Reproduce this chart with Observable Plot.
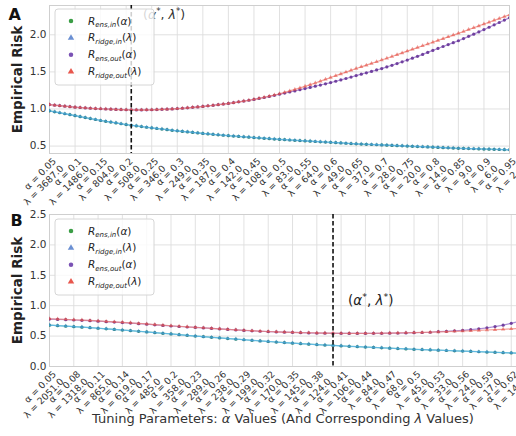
<!DOCTYPE html>
<html><head><meta charset="utf-8">
<script src="https://cdn.jsdelivr.net/npm/d3@7"></script>
<script src="https://cdn.jsdelivr.net/npm/@observablehq/plot@0.6"></script>
<style>
body{margin:0;background:#fff;}
#chart{width:516px;height:436px;position:relative;overflow:hidden;font-family:"DejaVu Sans",sans-serif;}
#chart svg{display:block;overflow:visible;}
</style></head><body><div id="chart"></div>
<script>
// ---------- Panel A data (alpha = 0.05 .. 0.95, step 0.01) ----------
const alphaA = d3.range(91).map(i => +(0.05 + i * 0.01).toFixed(2));
const alphaTicksA = [0.05,0.1,0.15,0.2,0.25,0.3,0.35,0.4,0.45,0.5,0.55,0.6,0.65,0.7,0.75,0.8,0.85,0.9,0.95];
const lambdaTicksA = ["3687.0","1486.0","804.0","508.0","346.0","249.0","187.0","142.0","108.0","83.0","64.0","49.0","37.0","28.0","20.0","14.0","9.0","6.0","2.0"];
const ensInA = [0.975,0.962,0.949,0.936,0.923,0.910,0.897,0.884,0.871,0.858,0.845,0.834,0.823,0.812,0.801,0.790,0.781,0.772,0.763,0.754,
0.745,0.737,0.729,0.721,0.713,0.705,0.698,0.691,0.684,0.677,0.670,0.664,0.658,0.652,0.646,0.640,0.635,0.630,0.625,0.620,
0.615,0.610,0.605,0.600,0.595,0.590,0.586,0.582,0.578,0.574,0.570,0.566,0.562,0.558,0.554,0.550,0.546,0.542,0.538,0.534,
0.530,0.527,0.524,0.521,0.518,0.515,0.512,0.509,0.506,0.503,0.500,0.497,0.494,0.491,0.488,0.485,0.482,0.479,0.476,0.473,
0.470,0.468,0.466,0.464,0.462,0.460,0.458,0.456,0.454,0.452,0.450];
const ridgeInA = [0.976,0.963,0.950,0.937,0.924,0.911,0.898,0.885,0.872,0.859,0.846,0.835,0.824,0.813,0.802,0.791,0.782,0.773,0.764,0.755,
0.746,0.738,0.730,0.722,0.714,0.706,0.699,0.692,0.685,0.678,0.671,0.665,0.659,0.653,0.647,0.641,0.636,0.631,0.626,0.621,
0.616,0.611,0.606,0.601,0.596,0.591,0.587,0.583,0.579,0.575,0.571,0.567,0.563,0.559,0.555,0.551,0.547,0.543,0.539,0.535,
0.531,0.528,0.525,0.522,0.519,0.516,0.513,0.510,0.507,0.504,0.501,0.498,0.495,0.492,0.489,0.486,0.483,0.480,0.477,0.474,
0.471,0.469,0.467,0.465,0.463,0.461,0.459,0.457,0.455,0.453,0.451];
const ensOutA = [1.060,1.052,1.045,1.038,1.031,1.025,1.020,1.015,1.010,1.006,1.003,1.000,0.997,0.994,0.992,0.990,0.989,0.988,0.988,0.989,
0.990,0.992,0.995,0.998,1.001,1.005,1.010,1.016,1.022,1.028,1.035,1.042,1.050,1.058,1.066,1.075,1.085,1.096,1.107,1.118,
1.129,1.142,1.155,1.169,1.184,1.200,1.214,1.229,1.244,1.259,1.275,1.291,1.307,1.323,1.339,1.356,1.374,1.392,1.411,1.430,
1.450,1.469,1.488,1.507,1.526,1.545,1.567,1.589,1.612,1.636,1.660,1.685,1.710,1.736,1.763,1.790,1.816,1.842,1.868,1.894,
1.920,1.949,1.979,2.009,2.039,2.070,2.102,2.134,2.166,2.198,2.230];
const ridgeOutA = [1.060,1.052,1.045,1.038,1.031,1.025,1.020,1.015,1.010,1.006,1.003,1.000,0.997,0.994,0.992,0.990,0.989,0.988,0.988,0.989,
0.990,0.992,0.995,0.998,1.001,1.005,1.010,1.016,1.022,1.028,1.035,1.042,1.050,1.058,1.066,1.075,1.085,1.096,1.107,1.118,
1.130,1.144,1.158,1.173,1.189,1.205,1.224,1.244,1.264,1.284,1.305,1.328,1.351,1.375,1.400,1.425,1.449,1.473,1.497,1.521,
1.545,1.568,1.591,1.614,1.637,1.660,1.684,1.708,1.732,1.756,1.780,1.804,1.828,1.852,1.876,1.900,1.924,1.948,1.972,1.996,
2.020,2.045,2.070,2.095,2.120,2.145,2.170,2.195,2.220,2.245,2.270];
const alphaStarA = 0.21;

// ---------- Panel B data (alpha = 0.05 .. 0.63, step 0.01) ----------
const alphaB = d3.range(59).map(i => +(0.05 + i * 0.01).toFixed(2));
const alphaTicksB = [0.05,0.08,0.11,0.14,0.17,0.2,0.23,0.26,0.29,0.32,0.35,0.38,0.41,0.44,0.47,0.5,0.53,0.56,0.59,0.62];
const lambdaTicksB = ["2051.0","1318.0","865.0","619.0","485.0","358.0","289.0","238.0","199.0","170.0","145.0","124.0","106.0","84.0","68.0","45.0","33.0","24.0","17.0","14.0"];
const ensInB = [0.680,0.672,0.664,0.655,0.647,0.638,0.629,0.619,0.609,0.599,0.589,0.579,0.568,0.557,0.546,0.535,0.523,0.512,0.500,0.490,
0.480,0.470,0.460,0.450,0.440,0.430,0.420,0.411,0.402,0.393,0.384,0.376,0.368,0.360,0.353,0.346,0.339,0.332,0.326,0.320,
0.313,0.307,0.301,0.295,0.289,0.283,0.278,0.273,0.268,0.263,0.258,0.253,0.248,0.243,0.238,0.233,0.228,0.223,0.218];
const ridgeInB = [0.681,0.673,0.665,0.656,0.648,0.639,0.630,0.620,0.610,0.600,0.590,0.580,0.569,0.558,0.547,0.536,0.524,0.513,0.501,0.491,
0.481,0.471,0.461,0.451,0.441,0.431,0.421,0.412,0.403,0.394,0.385,0.377,0.369,0.361,0.354,0.347,0.340,0.333,0.327,0.321,
0.314,0.308,0.302,0.296,0.290,0.284,0.279,0.274,0.269,0.264,0.259,0.254,0.249,0.244,0.239,0.234,0.229,0.224,0.219];
const ensOutB = [0.780,0.775,0.770,0.765,0.759,0.753,0.746,0.738,0.730,0.722,0.714,0.705,0.696,0.686,0.676,0.666,0.658,0.650,0.642,0.634,
0.626,0.618,0.610,0.602,0.594,0.587,0.580,0.574,0.569,0.564,0.560,0.556,0.553,0.550,0.548,0.546,0.545,0.544,0.544,0.544,
0.545,0.546,0.548,0.550,0.553,0.556,0.559,0.563,0.572,0.578,0.586,0.595,0.606,0.620,0.636,0.656,0.680,0.710,0.745];
const ridgeOutB = [0.785,0.780,0.775,0.769,0.763,0.757,0.750,0.742,0.734,0.726,0.718,0.709,0.700,0.690,0.680,0.670,0.662,0.653,0.645,0.637,
0.628,0.620,0.612,0.604,0.596,0.589,0.582,0.576,0.571,0.566,0.562,0.558,0.555,0.552,0.550,0.548,0.547,0.546,0.546,0.546,
0.547,0.548,0.550,0.552,0.555,0.558,0.561,0.565,0.569,0.573,0.578,0.583,0.588,0.594,0.600,0.606,0.612,0.619,0.626];
const alphaStarB = 0.40;

// ---------- styles ----------
const styles = [
  {key: "ensIn",    symbol: "circle",   dot: "#23805a", line: "#3aa6a0", sub: "ens,in",    arg: "α", op: 0.95},
  {key: "ridgeIn",  symbol: "triangle", dot: "#3f8fd8", line: "#5ab8ee", sub: "ridge,in",  arg: "λ", op: 0.55},
  {key: "ensOut",   symbol: "circle",   dot: "#6a3a9a", line: "#8a5cc4", sub: "ens,out",   arg: "α", op: 0.95},
  {key: "ridgeOut", symbol: "triangle", dot: "#e0463c", line: "#f07a70", sub: "ridge,out", arg: "λ", op: 0.55}
];
const legendDot = {ensIn: "#3a9d45", ridgeIn: "#6a8fd2", ensOut: "#7a52b4", ridgeOut: "#e8564c"};

function panel(cfg) {
  const marks = [
    Plot.gridX(cfg.ticks, {stroke: "#dedede", strokeOpacity: 1, strokeWidth: 0.9}),
    Plot.gridY(cfg.yTicks, {stroke: "#dedede", strokeOpacity: 1, strokeWidth: 0.9}),
    Plot.frame({stroke: "#cfcfcf", strokeWidth: 1})
  ];
  cfg.series.forEach((vals, k) => {
    const st = styles[k];
    const rows = vals.map((v, i) => ({alpha: cfg.alphas[i], value: v}));
    marks.push(Plot.line(rows, {x: "alpha", y: "value", stroke: st.line, strokeWidth: 1.2, strokeOpacity: 0.7, clip: true}));
    marks.push(Plot.dot(rows, {x: "alpha", y: "value", symbol: st.symbol, fill: st.dot, r: st.symbol === "circle" ? 1.6 : 1.6, fillOpacity: st.op, clip: true}));
  });
  marks.push(Plot.ruleX([cfg.alphaStar], {stroke: "#111", strokeWidth: 1.6, strokeDasharray: "4.5,2.5"}));
  marks.push(Plot.axisY(cfg.yTicks, {tickSize: 0, tickPadding: 3, tickFormat: d => d.toFixed(1), fontSize: 10.5, fill: "#333", label: null}));
  marks.push(Plot.text(cfg.ticks, {
    x: d => d, frameAnchor: "bottom",
    text: (d, i) => `α = ${d}\nλ = ${cfg.lambdas[i]}`,
    rotate: -45, textAnchor: "end", lineAnchor: "top", lineHeight: 1.12,
    dx: 2, dy: 3, fontSize: 9.3, fill: "#333"
  }));
  marks.push(Plot.text(["Empirical Risk"], {frameAnchor: "left", dx: -32, rotate: -90, textAnchor: "middle", lineAnchor: "middle", fontWeight: "bold", fontSize: 13.5, fill: "#222"}));
  marks.push(Plot.text([cfg.letter], {frameAnchor: "top-left", dx: cfg.letterDx, dy: cfg.letterDy, textAnchor: "start", lineAnchor: "top", fontWeight: "bold", fontSize: 16, fill: "#111"}));
  return Plot.plot({
    width: 516, height: cfg.height,
    marginTop: cfg.mt, marginBottom: cfg.mb, marginLeft: 49, marginRight: cfg.mr,
    x: {domain: cfg.xDomain, axis: null},
    y: {domain: cfg.yDomain, axis: null},
    style: {fontFamily: "DejaVu Sans, sans-serif", fontSize: "10px", background: "white", color: "#333", overflow: "visible"},
    marks
  });
}

function addMathLabel(g, x, y, size, color) {
  const t = g.append("text").attr("x", x).attr("y", y).attr("font-size", size).attr("fill", color)
    .attr("text-anchor", "start").attr("font-family", "DejaVu Sans, sans-serif");
  t.append("tspan").text("(");
  t.append("tspan").attr("font-style", "italic").text("α");
  t.append("tspan").attr("font-size", size * 0.7).attr("dy", -size * 0.4).text("*");
  t.append("tspan").attr("dy", size * 0.4).text(", ");
  t.append("tspan").attr("font-style", "italic").text("λ");
  t.append("tspan").attr("font-size", size * 0.7).attr("dy", -size * 0.4).text("*");
  t.append("tspan").attr("dy", size * 0.4).text(")");
}

function addLegend(svg, top) {
  const g = d3.select(svg).append("g");
  g.append("rect").attr("x", 55).attr("y", top).attr("width", 99).attr("height", 76).attr("rx", 3)
    .attr("fill", "white").attr("fill-opacity", 0.8).attr("stroke", "#d6d6d6");
  styles.forEach((st, k) => {
    const cy = top + 12 + k * 16.9;
    const sym = d3.symbol().type(st.symbol === "circle" ? d3.symbolCircle : d3.symbolTriangle).size(st.symbol === "circle" ? 16 : 18);
    g.append("path").attr("d", sym()).attr("transform", `translate(71,${cy})`).attr("fill", legendDot[st.key]);
    const t = g.append("text").attr("x", 88).attr("y", cy + 3.5).attr("font-size", 10.5).attr("fill", "#222")
      .attr("text-anchor", "start").attr("font-family", "DejaVu Sans, sans-serif");
    t.append("tspan").attr("font-style", "italic").text("R");
    t.append("tspan").attr("font-style", "italic").attr("font-size", 7).attr("dy", 2.5).text(st.sub);
    t.append("tspan").attr("dy", -2.5).text("(");
    t.append("tspan").attr("font-style", "italic").text(st.arg);
    t.append("tspan").text(")");
  });
}

const root = document.getElementById("chart");

const svgA = panel({
  letter: "A", letterDx: -41, letterDy: 3,
  alphas: alphaA, series: [ensInA, ridgeInA, ensOutA, ridgeOutA],
  ticks: alphaTicksA, lambdas: lambdaTicksA,
  xDomain: [0.05, 0.95], yDomain: [0.40, 2.395], yTicks: [0.5, 1.0, 1.5, 2.0],
  alphaStar: alphaStarA, height: 210, mt: 5, mb: 57, mr: 7
});
root.appendChild(svgA);
addMathLabel(d3.select(svgA), 143, 19, 12.5, "#333");
addLegend(svgA, 9);

const svgB = panel({
  letter: "B", letterDx: -39, letterDy: 0,
  alphas: alphaB, series: [ensInB, ridgeInB, ensOutB, ridgeOutB],
  ticks: alphaTicksB, lambdas: lambdaTicksB,
  xDomain: [0.05, 0.6265], yDomain: [0, 2.5], yTicks: [0, 0.5, 1.0, 1.5, 2.0, 2.5],
  alphaStar: alphaStarB, height: 226, mt: 4, mb: 70, mr: 0
});
root.appendChild(svgB);
addMathLabel(d3.select(svgB), 348, 95, 13.5, "#222");
addLegend(svgB, 9);
{
  const t = d3.select(svgB).append("text").attr("x", 283).attr("y", 212.5).attr("text-anchor", "middle")
    .attr("font-size", 13).attr("fill", "#333").attr("font-family", "DejaVu Sans, sans-serif");
  t.append("tspan").text("Tuning Parameters: ");
  t.append("tspan").attr("font-style", "italic").text("α");
  t.append("tspan").text(" Values (And Corresponding ");
  t.append("tspan").attr("font-style", "italic").text("λ");
  t.append("tspan").text(" Values)");
}
</script></body></html>
